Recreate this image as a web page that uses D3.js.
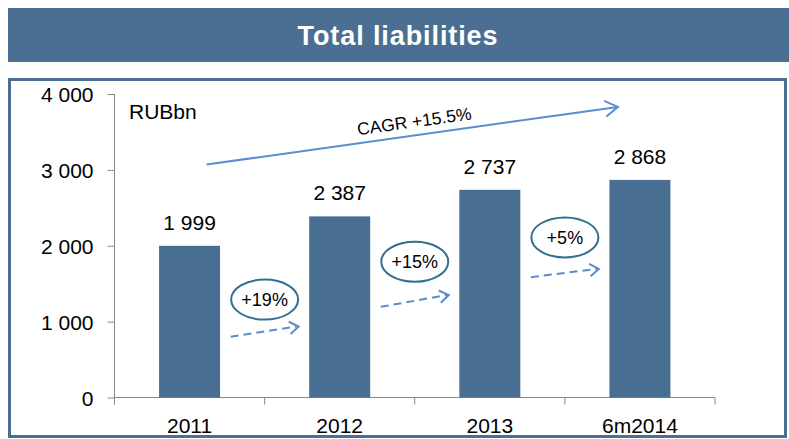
<!DOCTYPE html>
<html>
<head>
<meta charset="utf-8">
<script src="https://cdn.jsdelivr.net/npm/d3@7"></script>
<style>
  body { margin: 0; background: #ffffff; }
  text { font-family: "Liberation Sans", Arial, sans-serif; }
</style>
</head>
<body>
<svg id="chart"></svg>
<script>
//data
let categories = ["2011", "2012", "2013", "6m2014"];
let values = [1999, 2387, 2737, 2868];
let valueLabels = ["1 999", "2 387", "2 737", "2 868"];
let yTicks = [0, 1000, 2000, 3000, 4000];
let growthLabels = ["+19%", "+15%", "+5%"];
let growthBubbleY = [1290, 1790, 2110];
let growthArrowFrom = [800, 1195, 1585];
let growthArrowTo = [935, 1350, 1695];
let cagrLabel = "CAGR +15.5%";
let cagrValues = [3070, 3830];

function fmt(v) {
    return d3.format(",")(v).replace(/,/g, " ");
}

function drawChart() {

    let width = 789, height = 439;
    let blue = "#4a6f93";

    let svg = d3.select("#chart")
        .attr("width", width)
        .attr("height", height);

    //header band
    svg.append("rect")
        .attr("x", 8).attr("y", 8)
        .attr("width", width - 8).attr("height", 54)
        .style("fill", blue);

    svg.append("text")
        .attr("x", 398).attr("y", 44.5)
        .style("text-anchor", "middle")
        .style("font-size", "27px")
        .style("letter-spacing", "0.9px")
        .style("font-weight", "bold")
        .style("fill", "#ffffff")
        .text("Total liabilities");

    //frame
    svg.append("rect")
        .attr("x", 9.5).attr("y", 79.5)
        .attr("width", 776).attr("height", 357)
        .style("fill", "none")
        .style("stroke", blue)
        .style("stroke-width", 3);

    let x = d3.scaleBand()
        .domain(categories)
        .range([114.5, 715])
        .paddingInner(0)
        .paddingOuter(0);

    let y = d3.scaleLinear()
        .domain([0, 4000])
        .range([397.5, 94]);

    let barW = 61;
    let cx = d => x(d) + x.bandwidth() / 2;

    //y axis
    let yAxis = svg.append("g")
        .attr("transform", "translate(114.5,0)")
        .call(d3.axisLeft(y).tickValues(yTicks).tickSize(7).tickPadding(14).tickFormat(fmt));
    yAxis.select(".domain").attr("d", "M0," + y(4000) + "V" + (y(0) + 7));
    yAxis.selectAll("path, line").style("stroke", "#888888");
    yAxis.selectAll("text")
        .style("font-size", "21px")
        .style("fill", "#000000")
        .attr("dy", "0.36em");

    //x axis
    let xAxis = svg.append("g")
        .attr("transform", "translate(0," + y(0) + ")");
    xAxis.append("line")
        .attr("x1", x.range()[0]).attr("x2", x.range()[1])
        .style("stroke", "#888888");
    xAxis.selectAll("line.tick")
        .data(categories.concat(["end"]))
        .enter()
        .append("line")
        .attr("class", "tick")
        .attr("x1", (d, i) => x.range()[0] + i * x.bandwidth())
        .attr("x2", (d, i) => x.range()[0] + i * x.bandwidth())
        .attr("y1", 0).attr("y2", 7)
        .style("stroke", "#888888");
    xAxis.selectAll("text")
        .data(categories)
        .enter()
        .append("text")
        .attr("x", d => cx(d))
        .attr("y", 35)
        .style("text-anchor", "middle")
        .style("font-size", "21px")
        .text(d => d);

    //bars
    svg.selectAll("rect.bar")
        .data(values)
        .enter()
        .append("rect")
        .attr("class", "bar")
        .attr("x", (d, i) => cx(categories[i]) - barW / 2)
        .attr("y", d => y(d))
        .attr("width", barW)
        .attr("height", d => y(0) - y(d))
        .style("fill", "#486e92");

    svg.selectAll("text.value")
        .data(values)
        .enter()
        .append("text")
        .attr("class", "value")
        .attr("x", (d, i) => cx(categories[i]))
        .attr("y", d => y(d) - 16)
        .style("text-anchor", "middle")
        .style("font-size", "21px")
        .text((d, i) => valueLabels[i]);

    svg.append("text")
        .attr("x", 129).attr("y", 119)
        .style("font-size", "21px")
        .text("RUBbn");

    //growth bubbles and dashed arrows
    let arrowBlue = "#5a8ccf";
    growthLabels.forEach(function(label, i) {
        let bx = x.range()[0] + (i + 1) * x.bandwidth();
        let g = svg.append("g");
        g.append("ellipse")
            .attr("cx", bx).attr("cy", y(growthBubbleY[i]))
            .attr("rx", 33.5).attr("ry", 20)
            .style("fill", "#ffffff")
            .style("stroke", "#31708f")
            .style("stroke-width", 2);
        g.append("text")
            .attr("x", bx).attr("y", y(growthBubbleY[i]) + 6.5)
            .style("text-anchor", "middle")
            .style("font-size", "18px")
            .text(label);

        let x1 = bx - 34, x2 = bx + 34;
        let y1 = y(growthArrowFrom[i]), y2 = y(growthArrowTo[i]);
        g.append("line")
            .attr("x1", x1).attr("y1", y1)
            .attr("x2", x2 - 2).attr("y2", y2)
            .style("stroke", arrowBlue)
            .style("stroke-width", 2)
            .style("stroke-dasharray", "8,5");
        let ang = Math.atan2(y2 - y1, x2 - x1);
        let len = 11, spread = 0.6;
        g.append("path")
            .attr("d", "M" + (x2 - len * Math.cos(ang - spread)) + "," + (y2 - len * Math.sin(ang - spread)) +
                "L" + x2 + "," + y2 +
                "L" + (x2 - len * Math.cos(ang + spread)) + "," + (y2 - len * Math.sin(ang + spread)))
            .style("fill", "none")
            .style("stroke", arrowBlue)
            .style("stroke-width", 2);
    });

    //CAGR arrow
    let cx1 = cx(categories[0]) + 17, cy1 = y(cagrValues[0]);
    let cx2 = cx(categories[3]) - 22, cy2 = y(cagrValues[1]);
    let cagrAng = Math.atan2(cy2 - cy1, cx2 - cx1);
    svg.append("line")
        .attr("x1", cx1).attr("y1", cy1)
        .attr("x2", cx2).attr("y2", cy2)
        .style("stroke", arrowBlue)
        .style("stroke-width", 2);
    let hl = 15, hs = 0.55;
    svg.append("path")
        .attr("d", "M" + (cx2 - hl * Math.cos(cagrAng - hs)) + "," + (cy2 - hl * Math.sin(cagrAng - hs)) +
            "L" + cx2 + "," + cy2 +
            "L" + (cx2 - hl * Math.cos(cagrAng + hs)) + "," + (cy2 - hl * Math.sin(cagrAng + hs)))
        .style("fill", "none")
        .style("stroke", arrowBlue)
        .style("stroke-width", 2);

    let tx = 415, ty = cy1 + (cy2 - cy1) * (tx - cx1) / (cx2 - cx1) - 8;
    svg.append("text")
        .attr("transform", "translate(" + tx + "," + ty + ") rotate(" + (cagrAng * 180 / Math.PI) + ")")
        .style("text-anchor", "middle")
        .style("font-size", "17.5px")
        .text(cagrLabel);
}

drawChart();
</script>
</body>
</html>
